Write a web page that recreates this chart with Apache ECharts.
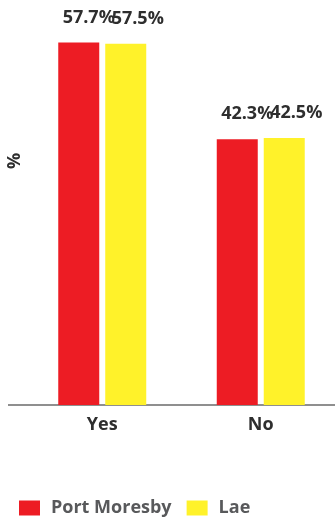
<!DOCTYPE html>
<html><head><meta charset="utf-8">
<script src="https://cdn.jsdelivr.net/npm/echarts@6/dist/echarts.min.js"></script>
<style>html,body{margin:0;padding:0;background:#fff;overflow:hidden}#c{width:340px;height:520px}</style>
</head><body><div id="c"></div>
<script>
var categories = ['Yes', 'No'];
var portMoresby = [57.7, 42.3];
var lae = [57.5, 42.5];
var seriesNames = ['Port Moresby', 'Lae'];
var yAxisTitle = '%';

var chart = echarts.init(document.getElementById('c'));
var font = '"Open Sans", sans-serif';
function lbl(dx) {
  return {show: true, position: 'top', distance: 16, offset: [dx, 0],
    formatter: function (p) { return p.value.toFixed(1) + '%'; },
    fontFamily: font, fontWeight: 'bold', fontSize: 18, color: '#2e2e2e'};
}
chart.setOption({
  animation: false,
  grid: {left: 23, right: 0, top: 28, bottom: 115, containLabel: false},
  legend: {
    left: 14, top: 494, itemWidth: 21, itemHeight: 15, itemGap: 15,
    icon: 'rect',
    textStyle: {fontFamily: font, fontWeight: 'bold', fontSize: 18, color: '#58595b', padding: [0, 0, 0, 6]},
    data: seriesNames
  },
  xAxis: {
    type: 'category', data: categories,
    axisLine: {lineStyle: {color: '#8f8f8f', width: 2}},
    axisTick: {show: false},
    axisLabel: {fontFamily: font, fontWeight: 'bold', fontSize: 18, color: '#2e2e2e', margin: 11}
  },
  yAxis: {
    type: 'value', min: 0, max: 60, show: false
  },
  graphic: [
    {type: 'text', x: 15, y: 161, rotation: Math.PI / 2,
      style: {text: yAxisTitle, fontFamily: font, fontWeight: 'bold', fontSize: 18, fill: '#2e2e2e',
        textAlign: 'center', textVerticalAlign: 'middle'}},
    {type: 'line', shape: {x1: 8, y1: 405, x2: 24, y2: 405}, style: {stroke: '#8f8f8f', lineWidth: 2}}
  ],
  series: [
    {name: seriesNames[0], type: 'bar', data: portMoresby, barWidth: 41, barGap: '14.6%',
      itemStyle: {color: '#ed1c24'}, label: lbl(10)},
    {name: seriesNames[1], type: 'bar', data: lae, barWidth: 41,
      itemStyle: {color: '#fff22a'}, label: lbl(12)}
  ]
});
</script></body></html>
